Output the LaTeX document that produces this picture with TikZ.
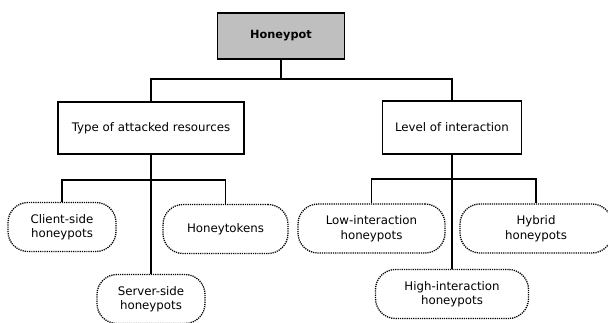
\documentclass[tikz,border=0pt]{standalone}
\usepackage{fontspec}
\setmainfont{DejaVu Sans}
\begin{document}
\begin{tikzpicture}[x=1pt,y=-1pt,
  solidbox/.style={draw=black,line width=1.5pt,align=center,inner sep=0pt,font=\fontsize{11.8}{14}\selectfont},
  leaf/.style={draw=black,line width=1.3pt,dash pattern=on 1.2pt off 1pt,rounded corners=20pt,align=center,inner sep=0pt,minimum height=49pt,font=\fontsize{11.8}{14.5}\selectfont},
  conn/.style={line width=1.5pt}]
\useasboundingbox (0,0) rectangle (608,322);
\node[solidbox,fill=gray!50,minimum width=127pt,minimum height=46pt,font=\bfseries\fontsize{11.3}{13}\selectfont] (hp) at (281,36) {Honeypot};
\node[solidbox,minimum width=186pt,minimum height=52pt] (type) at (151,128) {Type of attacked resources};
\node[solidbox,minimum width=139pt,minimum height=53pt] (level) at (452,127.5) {Level of interaction};
\node[leaf,minimum width=108pt] (client) at (62,227) {Client-side\\honeypots};
\node[leaf,minimum width=125pt] (tokens) at (225.5,229) {Honeytokens};
\node[leaf,minimum width=108pt] (server) at (151,299) {Server-side\\honeypots};
\node[leaf,minimum width=147pt] (low) at (371.5,228.5) {Low-interaction\\honeypots};
\node[leaf,minimum width=152pt] (hybrid) at (536,228.5) {Hybrid\\honeypots};
\node[leaf,minimum width=153pt] (high) at (452,294) {High-interaction\\honeypots};
\coordinate (b1) at (281,79);
\coordinate (b2) at (151,180);
\coordinate (b3) at (452,179);
\draw[conn] (hp.south) -- (b1);
\draw[conn] (b1) -| (type.north);
\draw[conn] (b1) -| (level.north);
\draw[conn] (type.south) -- (server.north);
\draw[conn] (b2) -| (client.north);
\draw[conn] (b2) -| (tokens.north);
\draw[conn] (level.south) -- (high.north);
\draw[conn] (b3) -| (low.north);
\draw[conn] (b3) -| (hybrid.north);
\end{tikzpicture}
\end{document}
